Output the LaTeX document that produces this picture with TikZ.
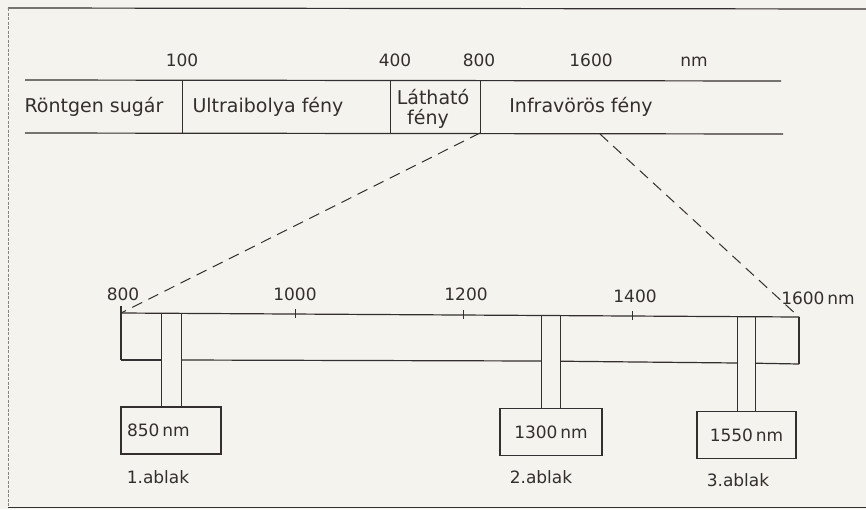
\documentclass[tikz,border=0pt]{standalone}
\usepackage{fontspec}
\setmainfont{DejaVu Sans}
\definecolor{paper}{HTML}{F5F3EE}
\definecolor{ink}{HTML}{332F2F}
\definecolor{frameink}{HTML}{8A8480}
\begin{document}
\begin{tikzpicture}[x=1pt,y=-1pt,
  line/.style={draw=ink, line width=1.2pt},
  thin/.style={draw=ink, line width=0.8pt},
  dashline/.style={draw=ink, line width=1pt, dash pattern=on 11pt off 7pt},
  lbl/.style={text=ink, font=\fontsize{17}{20}\selectfont, inner sep=0pt},
  wide/.style={text=ink, font=\fontsize{19}{22}\selectfont, inner sep=0pt},
  winbox/.style={draw=ink, line width=1.2pt, text=ink, font=\fontsize{17}{20}\selectfont,
                 minimum height=47pt, inner xsep=6pt, inner ysep=0pt}]
\fill[paper] (0,0) rectangle (866,509);
\useasboundingbox (0,0) rectangle (866,509);
% frame
\draw[line width=1.2pt, draw=ink] (8,8) -- (866,9);
\draw[line width=0.6pt, draw=frameink, dash pattern=on 3pt off 1.5pt] (8,8) -- (8,507);
\draw[line width=1.2pt, draw=ink] (8,507.5) -- (866,507.5);
% spectrum band
\coordinate (bl1) at (25,80);
\coordinate (br1) at (781,81);
\coordinate (bl2) at (25,133);
\coordinate (br2) at (783,134);
\draw[line] (bl1) -- (br1);
\draw[line] (bl2) -- (br2);
\coordinate (d1a) at (182,80);   \coordinate (d1b) at (182,133);
\coordinate (d2a) at (390,80.5); \coordinate (d2b) at (390,133);
\coordinate (d3a) at (480,80.5); \coordinate (d3b) at (480,133);
\draw[thin] (d1a) -- (d1b);
\draw[thin] (d2a) -- (d2b);
\draw[thin] (d3a) -- (d3b);
\node[lbl] (n100) at (182,60) {100};
\node[lbl] (n400) at (395,60) {400};
\node[lbl] (n800) at (479,60) {800};
\node[lbl] (n1600) at (591,60) {1600};
\node[lbl] (nnm) at (694,62) {nm};
\node[wide] (rtg) at (94,107) {Röntgen sugár};
\node[wide] (uv) at (268,107) {Ultraibolya fény};
\node[wide] (vis1) at (433,97) {Látható};
\node[wide] (vis2) at (428,119) {fény};
\node[wide] (ir) at (581,107) {Infravörös fény};
% zoomed scale
\coordinate (s0) at (121,313);
\coordinate (s1) at (799,317);
\coordinate (b0) at (121,360);
\coordinate (b1) at (799,364);
\coordinate (irs) at (600,134);
\draw[dashline] (d3b) -- (s0);
\draw[dashline] (irs) -- (s1);
\draw[line] (s0) -- (s1);
\draw[line] (121,306) -- (b0);
\draw[line] (s1) -- (b1);
\draw[line] (b0) -- (161,360);
\draw[line] (181,360) -- (541,361);
\draw[line] (560,361.2) -- (737,363);
\draw[line] (755,363.2) -- (b1);
% ticks
\draw[thin] (295,309) -- (295,318);
\draw[thin] (463,310) -- (463,319);
\draw[thin] (632,311) -- (632,320);
\node[lbl] (s800) at (123,294) {800};
\node[lbl] (s1000) at (295,294) {1000};
\node[lbl] (s1200) at (466,294) {1200};
\node[lbl] (s1400) at (635,296) {1400};
\node[lbl] (s1600) at (818,298) {1600\,nm};
% windows
\node[winbox, text width=88pt, align=left] (w1) at (171,430.5) {850\,nm};
\node[winbox, minimum width=102pt] (w2) at (551,432) {1300\,nm};
\node[winbox, minimum width=99pt] (w3) at (746.5,435) {1550\,nm};
\coordinate (c1a) at (161,313.2);
\coordinate (c1b) at (181,313.3);
\coordinate (c2a) at (541,315.2);
\coordinate (c2b) at (560,315.3);
\coordinate (c3a) at (737,316.6);
\coordinate (c3b) at (755,316.7);
\draw[thin] (c1a) -- (c1a |- w1.north);
\draw[thin] (c1b) -- (c1b |- w1.north);
\draw[thin] (c2a) -- (c2a |- w2.north);
\draw[thin] (c2b) -- (c2b |- w2.north);
\draw[thin] (c3a) -- (c3a |- w3.north);
\draw[thin] (c3b) -- (c3b |- w3.north);
\node[lbl] (a1) at (158,477) {1.ablak};
\node[lbl] (a2) at (541,477) {2.ablak};
\node[lbl] (a3) at (738,480) {3.ablak};
\end{tikzpicture}
\end{document}
